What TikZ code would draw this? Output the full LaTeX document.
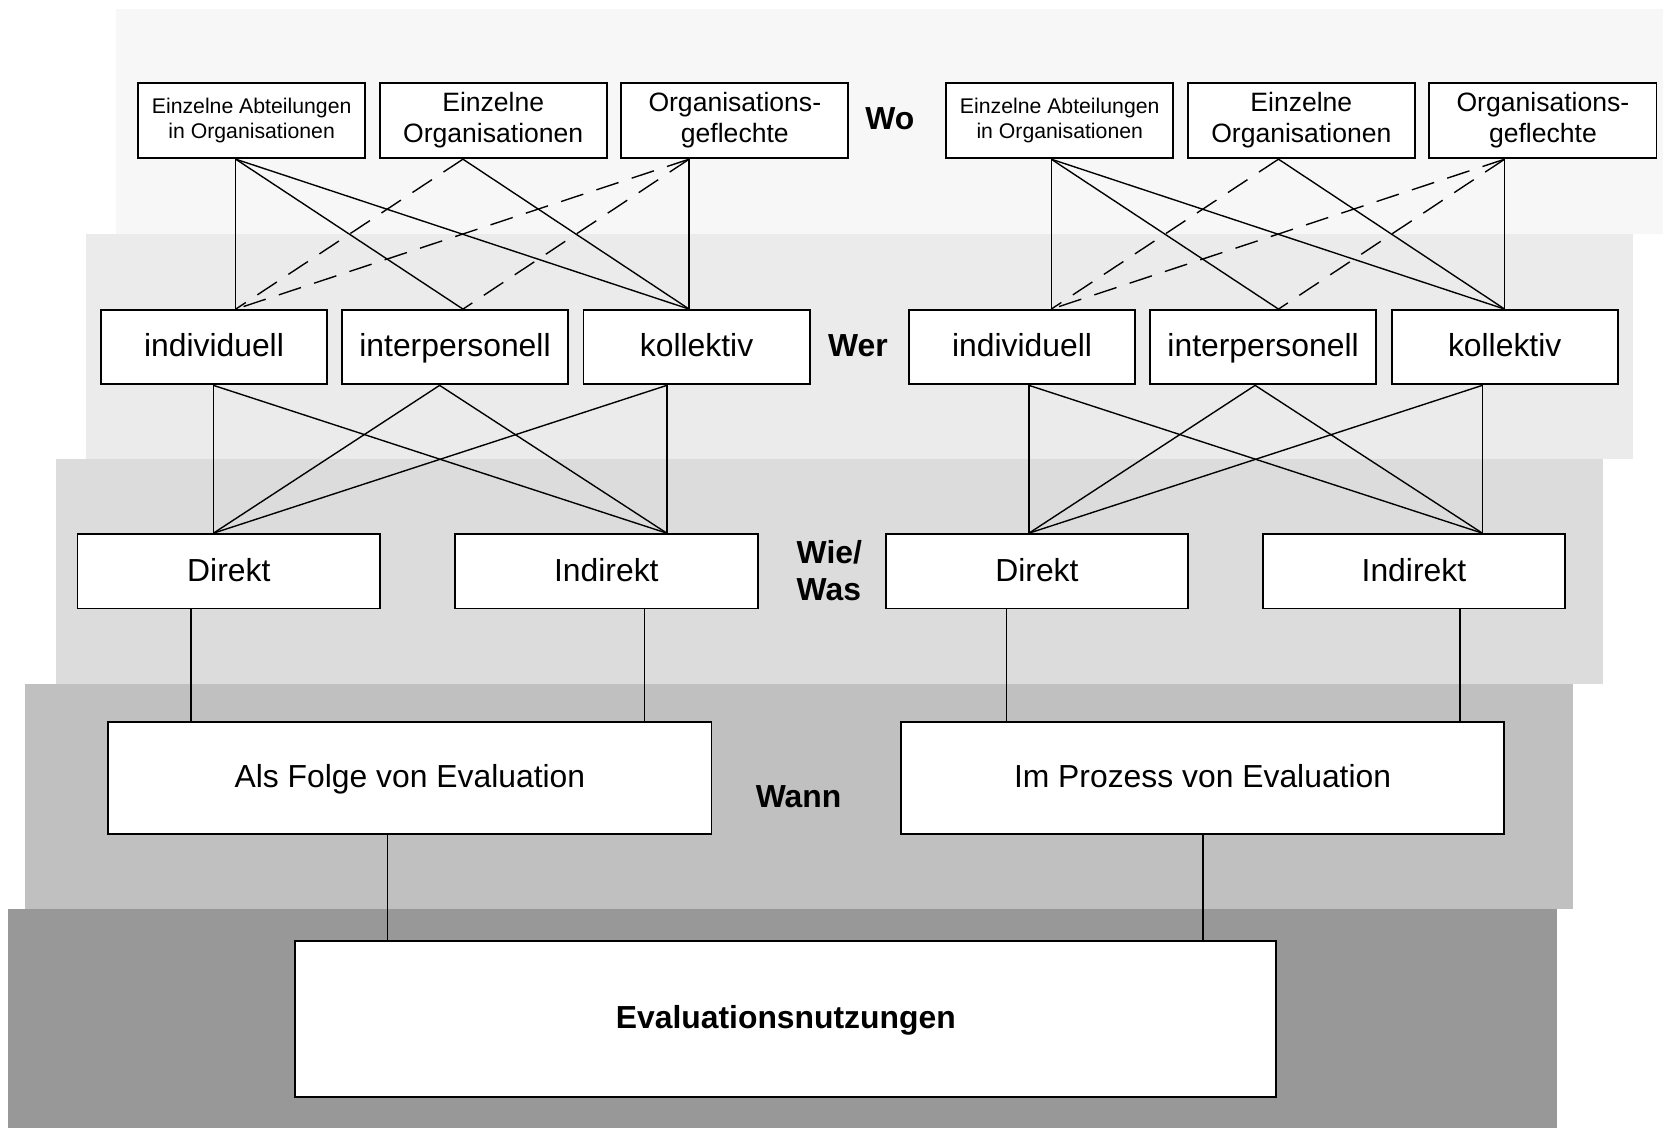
\documentclass[tikz,border=0pt]{standalone}
\usepackage{fontspec}
\setmainfont{Liberation Sans}
\definecolor{layerA}{HTML}{F7F7F7}
\definecolor{layerB}{HTML}{EBEBEB}
\definecolor{layerC}{HTML}{DCDCDC}
\definecolor{layerD}{HTML}{C0C0C0}
\definecolor{layerE}{HTML}{989898}
\begin{document}
\begin{tikzpicture}[x=0.5pt,y=-0.5pt,
        box/.style={draw, fill=white, line width=0.9pt, inner sep=0pt, align=center,
            font=\fontsize{15}{17}\selectfont},
        onebox/.style={box, text height=0.916em, text depth=0pt},
        wobox/.style={box, minimum width=107pt, minimum height=35.5pt},
        werbox/.style={onebox, minimum width=106.5pt, minimum height=35pt},
        wiebox/.style={onebox, minimum width=142.5pt, minimum height=35pt},
        wannbox/.style={onebox, minimum width=284pt, minimum height=52.5pt},
        tag/.style={font=\bfseries\fontsize{15}{17.5}\selectfont, align=left, inner sep=0pt},
        link/.style={line width=0.65pt},
        dlink/.style={line width=0.65pt, dash pattern=on 11pt off 6.5pt}]
    \useasboundingbox (0,0) rectangle (1568,1062);
    % layers
        \fill[layerA] (109,8) rectangle (1566,220);
        \fill[layerB] (81,220) rectangle (1538,432);
        \fill[layerC] (53,432) rectangle (1510,644);
        \fill[layerD] (24,644) rectangle (1481,856);
        \fill[layerE] (8,856) rectangle (1466,1062);
    % boxes
        \foreach \s/\a/\b/\c in {L/237/464.5/692,R/998/1225.5/1453}{
            \node[wobox, font=\fontsize{10}{12}\selectfont] (\s-wo1) at (\a,113.5) {Einzelne Abteilungen\\in Organisationen};
            \node[wobox, font=\fontsize{12.5}{14.5}\selectfont] (\s-wo2) at (\b,113.5) {Einzelne\\Organisationen};
            \node[wobox, font=\fontsize{12.5}{14.5}\selectfont] (\s-wo3) at (\c,113.5) {Organisations-\\geflechte};
        }
        \foreach \s/\a/\b/\c in {L/201.5/428.5/656,R/962.5/1189.5/1417}{
            \node[werbox] (\s-wer1) at (\a,327) {individuell};
            \node[werbox] (\s-wer2) at (\b,327) {interpersonell};
            \node[werbox] (\s-wer3) at (\c,327) {kollektiv};
        }
        \foreach \s/\a/\b in {L/215.5/571,R/976.5/1331.5}{
            \node[wiebox] (\s-wie1) at (\a,538) {Direkt};
            \node[wiebox] (\s-wie2) at (\b,538) {Indirekt};
        }
        \node[wannbox] (L-wann) at (386,732.5) {Als Folge von Evaluation};
        \node[wannbox] (R-wann) at (1132.5,732.5) {Im Prozess von Evaluation};
        \node[onebox, minimum width=462pt, minimum height=73.5pt, font=\bfseries\fontsize{15}{17}\selectfont] (nutz) at (740,959.5) {Evaluationsnutzungen};
    % labels
        \node[tag] (wo) at (838,112) {Wo};
        \node[tag] (wer) at (808,326) {Wer};
        \node[tag] (wie) at (781,537) {Wie/\\Was};
        \node[tag] (wann) at (752,750) {Wann};
    % links
        \foreach \s/\o in {L/0,R/768}{
            \foreach \i/\x in {1/222,2/436,3/649}{
                \coordinate (\s-wo\i-b) at (\s-wo\i.south -| \x+\o,0);
                \coordinate (\s-wer\i-t) at (\s-wer\i.north -| \x+\o,0);
            }
            \foreach \i/\x in {1/201,2/414,3/628}
                \coordinate (\s-wer\i-b) at (\s-wer\i.south -| \x+\o,0);
            \coordinate (\s-wie1-t) at (\s-wie1.north -| 201+\o,0);
            \coordinate (\s-wie2-t) at (\s-wie2.north -| 628+\o,0);
            \coordinate (\s-wie1-b) at (\s-wie1.south -| 180+\o,0);
            \coordinate (\s-wie2-b) at (\s-wie2.south -| 607+\o,0);
            \coordinate (\s-wann-t1) at (\s-wann.north -| 180+\o,0);
            \coordinate (\s-wann-t2) at (\s-wann.north -| 607+\o,0);
            \coordinate (\s-wann-b) at (\s-wann.south -| 365+\o,0);
            \coordinate (\s-nutz-t) at (nutz.north -| 365+\o,0);
            \foreach \a/\b in {1/1,1/2,1/3,2/3,3/3}
                \draw[link] (\s-wo\a-b) -- (\s-wer\b-t);
            \foreach \a/\b in {2/1,3/1,3/2}
                \draw[dlink] (\s-wo\a-b) -- (\s-wer\b-t);
            \foreach \a/\b in {1/1,1/2,2/1,2/2,3/1,3/2}
                \draw[link] (\s-wer\a-b) -- (\s-wie\b-t);
            \draw[link] (\s-wie1-b) -- (\s-wann-t1);
            \draw[link] (\s-wie2-b) -- (\s-wann-t2);
            \draw[link] (\s-wann-b) -- (\s-nutz-t);
        }
\end{tikzpicture}
\end{document}
